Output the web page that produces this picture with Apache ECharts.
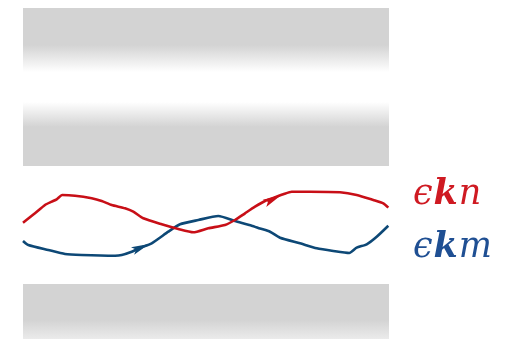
<!DOCTYPE html>
<html>
<head>
<meta charset="utf-8">
<script src="https://cdn.jsdelivr.net/npm/echarts@6/dist/echarts.min.js"></script>
<style>
  html, body { margin: 0; padding: 0; background: #ffffff; }
  #chart { width: 505px; height: 339px; }
</style>
</head>
<body>
<div id="chart"></div>
<script>
// Two crossing bands sitting in the gap between shaded band manifolds.
// k: crystal momentum (arbitrary units, 0..100); E: energy (arbitrary units).
const kN = [0, 3.28, 6.01, 7.84, 9.21, 10.74, 14.21, 18.77, 21.5, 24.23, 27.87, 30.14, 32.87, 37.9, 42.43, 46.53,
            50.63, 55.19, 57.92, 60.66, 63.39, 66.12, 68.39, 71.12, 73.42, 78.42, 86.61, 91.17, 95.71, 98.44, 99.81];
const eN = [11.63, 12.57, 13.4, 13.73, 13.97, 14.4, 14.33, 14.07, 13.8, 13.4, 13.07, 12.73, 12.07, 11.47, 11.0, 10.67,
            11.07, 11.4, 11.9, 12.57, 13.23, 13.8, 14.1, 14.47, 14.73, 14.73, 14.67, 14.4, 13.9, 13.57, 13.13];

const kM = [0, 1.45, 6.91, 11.48, 16.04, 25.14, 26.97, 29.7, 31.97, 35.16, 39.7, 42.9, 47.9, 53.36, 57.92, 62.49,
            64.75, 67.49, 70.22, 75.68, 80.25, 84.78, 89.15, 91.17, 93.91, 96.64, 99.81];
const eM = [9.8, 9.4, 8.9, 8.5, 8.4, 8.33, 8.4, 8.73, 9.1, 9.57, 10.73, 11.47, 11.9, 12.3, 11.8, 11.33,
            11.05, 10.73, 10.13, 9.57, 9.07, 8.8, 8.6, 9.13, 9.47, 10.23, 11.33];

// Direction markers placed along each band: [k, E, direction angle in degrees]
const arrowN = [68.2, 13.95, 26];
const arrowM = [32.2, 9.15, 23];

// Shaded continua: [E top, E bottom]
const bandUpper = [33.1, 26.7];
const bandMiddle = [23.7, 17.3];
const bandLower = [5.5, 0];

const RED = '#c80f17';
const BLUE = '#0d4876';
const GREY = '#d3d3d3';

const zip = (xs, ys) => xs.map((x, i) => [x, ys[i]]);
const grad = (stops) => new echarts.graphic.LinearGradient(0, 0, 0, 1,
  stops.map(([offset, color]) => ({ offset, color })));

const arrowPath = 'path://M0,0L14,4L0,8L3,4Z';

const chart = echarts.init(document.getElementById('chart'), null, { renderer: 'canvas' });

const SERIF = '"DejaVu Serif", serif';
const label = (sub, color, top) => ({
  text: '{e|ϵ}{k|k}{s|' + sub + '}',
  left: 408,
  top: top,
  textStyle: {
    fontWeight: 'normal',
    rich: {
      e: { fontFamily: SERIF, fontStyle: 'italic', fontWeight: 'normal', fontSize: 35, color: color, padding: [0, 1, 0, 0] },
      k: { fontFamily: SERIF, fontStyle: 'italic', fontWeight: 'bold', fontSize: 35, color: color, padding: [0, 1, 0, 0] },
      s: { fontFamily: SERIF, fontStyle: 'italic', fontWeight: 'normal', fontSize: 35, color: color }
    }
  }
});

chart.setOption({
  animation: false,
  backgroundColor: '#ffffff',
  title: [label('n', '#cf1a22', 172), label('m', '#1f4f93', 225)],
  grid: { left: 23, right: 116, top: 8, bottom: 0 },
  xAxis: { type: 'value', min: 0, max: 100, show: false },
  yAxis: { type: 'value', min: 0, max: 33.1, show: false },
  series: [
    {
      type: 'line',
      data: [],
      silent: true,
      markArea: {
        silent: true,
        label: { show: false },
        data: [
          [{ yAxis: bandUpper[0], xAxis: 0, itemStyle: { color: grad([[0, GREY], [0.58, GREY], [1, '#ffffff']]) } },
           { yAxis: bandUpper[1], xAxis: 100 }],
          [{ yAxis: bandMiddle[0], xAxis: 0, itemStyle: { color: grad([[0, '#ffffff'], [0.39, GREY], [1, GREY]]) } },
           { yAxis: bandMiddle[1], xAxis: 100 }],
          [{ yAxis: bandLower[0], xAxis: 0, itemStyle: { color: grad([[0, GREY], [0.65, GREY], [1, '#ebebeb']]) } },
           { yAxis: bandLower[1], xAxis: 100 }]
        ]
      }
    },
    {
      name: 'm',
      type: 'line',
      data: zip(kM, eM),
      showSymbol: false,
      smooth: 0.2,
      lineStyle: { color: BLUE, width: 2.6 },
      z: 3
    },
    {
      name: 'n',
      type: 'line',
      data: zip(kN, eN),
      showSymbol: false,
      smooth: 0.2,
      lineStyle: { color: RED, width: 2.6 },
      z: 4
    },
    {
      type: 'scatter',
      data: [
        { value: [arrowM[0], arrowM[1]], symbolRotate: arrowM[2], itemStyle: { color: BLUE, opacity: 1 } },
        { value: [arrowN[0], arrowN[1]], symbolRotate: arrowN[2], itemStyle: { color: RED, opacity: 1 } }
      ],
      symbol: arrowPath,
      symbolSize: [18, 8],
      itemStyle: { opacity: 1 },
      z: 5
    }
  ]
});
</script>
</body>
</html>
